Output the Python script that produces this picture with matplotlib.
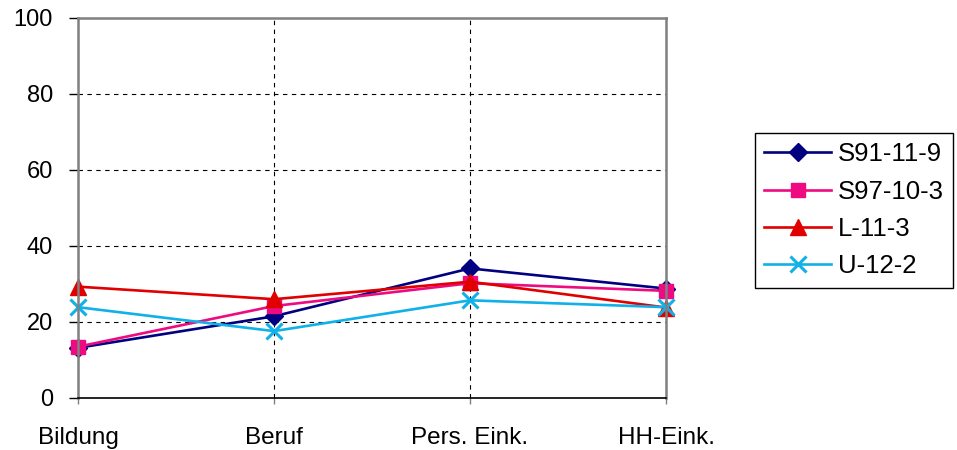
import matplotlib
matplotlib.use("Agg")
import matplotlib.pyplot as plt

# Data
categories = ["Bildung", "Beruf", "Pers. Eink.", "HH-Eink."]
s91_11_9 = [13.2, 21.5, 34.1, 28.8]
s97_10_3 = [13.5, 24.2, 30.2, 28.2]
l_11_3 = [29.3, 26.0, 30.6, 23.8]
u_12_2 = [23.9, 17.6, 25.7, 23.9]
y_ticks = [0, 20, 40, 60, 80, 100]

plt.rcParams['font.family'] = ['Liberation Sans', 'DejaVu Sans']

fig = plt.figure(figsize=(9.57, 4.5), dpi=100)
ax = fig.add_axes([78 / 957, 1 - 398 / 450, (666 - 78) / 957, (398 - 18) / 450])

x = range(len(categories))
ax.plot(x, s91_11_9, color="#000080", lw=1.9, marker="D", ms=9.5, label="S91-11-9", clip_on=False)
ax.plot(x, s97_10_3, color="#EE0A80", lw=1.9, marker="s", ms=10.5, label="S97-10-3", clip_on=False)
ax.plot(x, l_11_3, color="#E00000", lw=1.9, marker="^", ms=11.5, label="L-11-3", clip_on=False)
ax.plot(x, u_12_2, color="#10B0E8", lw=1.9, marker="x", ms=11, mew=2.2, label="U-12-2", clip_on=False)

ax.set_xlim(0, 3)
ax.set_ylim(0, 100)
ax.set_yticks(y_ticks)
ax.set_xticks(list(x))
ax.set_xticklabels(categories)

ax.grid(True, color="black", linestyle=(0, (4, 4)), linewidth=0.8)
for side in ["left", "top", "right"]:
    ax.spines[side].set_color("#808080")
    ax.spines[side].set_linewidth(1.8)
ax.spines["bottom"].set_color("black")
ax.spines["bottom"].set_linewidth(1.2)

ax.tick_params(axis="y", length=6.5, width=1, color="black", labelsize=17, pad=11.5)
ax.tick_params(axis="x", length=4.5, width=1, color="#808080", labelsize=17.5, pad=16.5)

ax.legend(loc="upper left", bbox_to_anchor=(755 / 957, 1 - 133 / 450),
          bbox_transform=fig.transFigure, borderaxespad=0, fontsize=18.5,
          handlelength=2.6, handletextpad=0.27, labelspacing=0.52,
          fancybox=False, edgecolor="black", framealpha=1, borderpad=0.36)

fig.savefig("out.png", dpi=100)
